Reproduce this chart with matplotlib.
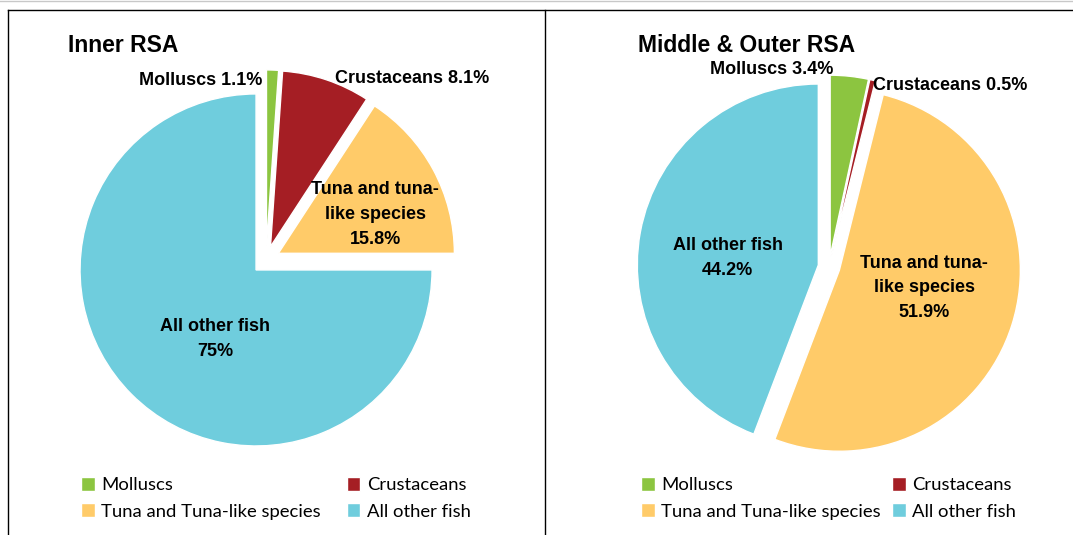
import matplotlib.pyplot as plt
from matplotlib.lines import Line2D

W, H = 1073, 535

categories = ['Molluscs', 'Crustaceans', 'Tuna and Tuna-like species', 'All other fish']
inner_values = [1.1, 8.1, 15.8, 75]
outer_values = [3.4, 0.5, 51.9, 44.2]
inner_labels = ['Molluscs 1.1%', 'Crustaceans 8.1%', 'Tuna and tuna-\nlike species\n15.8%', 'All other fish\n75%']
outer_labels = ['Molluscs 3.4%', 'Crustaceans 0.5%', 'Tuna and tuna-\nlike species\n51.9%', 'All other fish\n44.2%']
colors = ['#8cc540', '#a51e24', '#ffcb69', '#6fcddd']

label_font = dict(family='Liberation Sans', fontsize=13, fontweight='bold', color='black')
legend_font = dict(family='Lato', size=13.3)


def px(x, y):
    return x / W, 1 - y / H


def draw_pie(cx, cy, r, values, labels, label_pos, explode, title, title_x, leg_x, colspace):
    half = 260
    ax = fig.add_axes([(cx - half) / W, (H - cy - half) / H, 2 * half / W, 2 * half / H])
    wedges, _ = ax.pie(values, colors=colors, startangle=90, counterclock=False,
                       explode=[explode] * len(values),
                       wedgeprops=dict(edgecolor='white', linewidth=1))
    lim = half / r
    ax.set_xlim(-lim, lim)
    ax.set_ylim(-lim, lim)
    ax.set_aspect('equal')
    ax.axis('off')
    for lab, (lx, ly) in zip(labels, label_pos):
        ax.text(lx, ly, lab, ha='center', va='center', linespacing=1.6, **label_font)
    fig.text(*px(title_x, 45), title, ha='left', va='center',
             family='Liberation Sans', fontsize=16.5, fontweight='bold')
    order = [0, 2, 1, 3]
    ax.legend([wedges[i] for i in order], [categories[i] for i in order], ncol=2,
              loc='upper left', bbox_to_anchor=px(leg_x, 477), bbox_transform=fig.transFigure,
              frameon=False, prop=legend_font, handlelength=0.75, handleheight=0.75,
              handletextpad=0.35, columnspacing=colspace, labelspacing=0.55, borderpad=0,
              borderaxespad=0)


fig = plt.figure(figsize=(W / 100, H / 100), dpi=100)

draw_pie(266, 260, 176, inner_values, inner_labels,
         [(-0.37, 1.02), (0.83, 1.03), (0.62, 0.26), (-0.29, -0.45)],
         0.08, 'Inner RSA', 68, 81, 1.39)
draw_pie(829, 267, 181, outer_values, outer_labels,
         [(-0.315, 1.09), (0.67, 1.005), (0.525, -0.116), (-0.56, 0.05)],
         0.06, 'Middle & Outer RSA', 638, 641, 0.58)

# panel frames
fig.add_artist(Line2D([0, 1], [1 - 1 / H, 1 - 1 / H], color='#c8c8c8', lw=1))
fig.add_artist(Line2D([8 / W, 1], [1 - 10 / H, 1 - 10 / H], color='black', lw=1))
fig.add_artist(Line2D([8 / W, 8 / W], [0, 1 - 10 / H], color='black', lw=1))
fig.add_artist(Line2D([545 / W, 545 / W], [0, 1 - 10 / H], color='black', lw=1))

fig.savefig('out.png', dpi=100, facecolor='white')
